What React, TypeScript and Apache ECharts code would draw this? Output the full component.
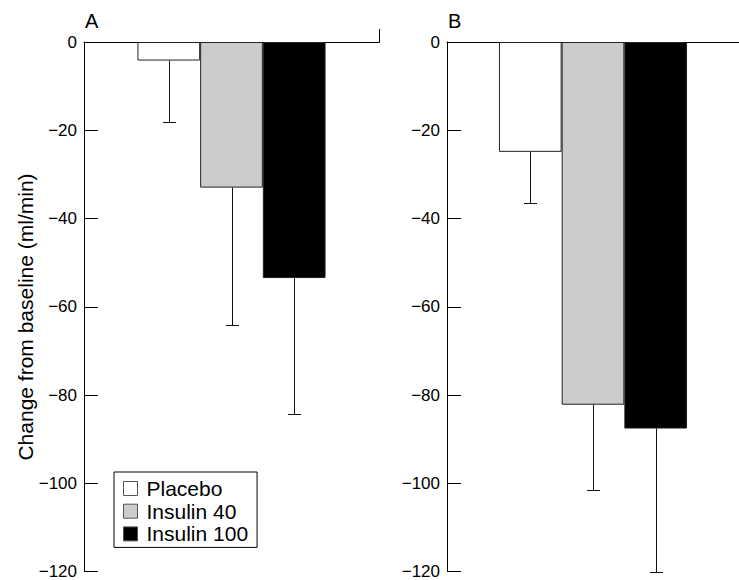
import React, { useEffect, useRef } from "react";
import * as echarts from "echarts";

const groups = ["Placebo", "Insulin 40", "Insulin 100"];
const colors = ["#ffffff", "#cccccc", "#000000"];
const meanA = [-4.2, -33.0, -53.5];
const sdA = [14.0, 31.1, 30.7];
const meanB = [-24.9, -82.2, -87.6];
const sdB = [11.5, 19.4, 32.4];
const yMin = -120;
const yMax = 0;
const yStep = 20;
const panelLabels = ["A", "B"];
const yTitle = "Change from baseline (ml/min)";

const FONT = '"Liberation Sans", Arial, Helvetica, sans-serif';
const BAR_W = 62.7;
const CAP = 13;

const grids = [
  { left: 84, top: 42, width: 295, height: 531 },
  { left: 447, top: 42, width: 296, height: 531 },
];

export default function App() {
  const ref = useRef<HTMLDivElement>(null);
  useEffect(() => {
    document.body.style.margin = "0";
    const chart = echarts.init(ref.current!, null, { renderer: "svg" });
    const panels = [
      { mean: meanA, sd: sdA },
      { mean: meanB, sd: sdB },
    ];
    const series: any[] = [];
    panels.forEach((p, gi) => {
      groups.forEach((g, i) => {
        series.push({
          type: "bar",
          name: g,
          xAxisIndex: gi,
          yAxisIndex: gi,
          data: [p.mean[i]],
          barWidth: BAR_W,
          barGap: "0%",
          itemStyle: { color: colors[i], borderColor: "#222", borderWidth: 1 },
          z: 2,
        });
      });
      series.push({
        type: "custom",
        xAxisIndex: gi,
        yAxisIndex: gi,
        z: 3,
        silent: true,
        encode: { x: 0, y: 1 },
        data: groups.map((_, i) => [0, p.mean[i], p.mean[i] - p.sd[i], i]),
        renderItem: (params: any, api: any) => {
          const idx = api.value(3);
          const top = api.coord([0, api.value(1)]);
          const bot = api.coord([0, api.value(2)]);
          const x = Math.round(top[0] + (idx - 1) * BAR_W) + 0.5;
          const y1 = top[1];
          const y2 = Math.round(bot[1]) + 0.5;
          const st = { stroke: "#111", lineWidth: 1 };
          return {
            type: "group",
            children: [
              { type: "line", shape: { x1: x, y1, x2: x, y2 }, style: st },
              { type: "line", shape: { x1: x - CAP / 2, y1: y2, x2: x + CAP / 2, y2 }, style: st },
            ],
          };
        },
      });
    });

    const option: any = {
      animation: false,
      backgroundColor: "#fff",
      grid: grids,
      xAxis: grids.map((_, gi) => ({
        type: "category",
        gridIndex: gi,
        position: "top",
        data: [""],
        axisLine: { lineStyle: { color: "#000", width: 1 } },
        axisTick: { show: false },
        axisLabel: { show: false },
        splitLine: { show: false },
      })),
      yAxis: grids.map((_, gi) => ({
        type: "value",
        gridIndex: gi,
        min: yMin,
        max: yMax,
        interval: yStep,
        axisLine: { show: true, lineStyle: { color: "#000", width: 1 } },
        axisTick: { show: true, inside: true, length: 14, lineStyle: { color: "#000" } },
        axisLabel: {
          margin: 7,
          fontSize: 17,
          color: "#000",
          fontFamily: FONT,
          formatter: (v: number) => String(v).replace("-", "\u2212"),
        },
        splitLine: { show: false },
      })),
      legend: {
        data: groups,
        orient: "vertical",
        left: 114,
        top: 472,
        icon: "rect",
        itemWidth: 14,
        itemHeight: 14,
        itemGap: 1.7,
        padding: [6, 9, 3, 9],
        borderColor: "#000",
        borderWidth: 1,
        selectedMode: false,
        itemStyle: { borderColor: "#555", borderWidth: 1 },
        textStyle: {
          fontSize: 21,
          lineHeight: 20,
          color: "#000",
          fontFamily: FONT,
          padding: [0, 0, 0, 4],
        },
      },
      graphic: [
        ...panelLabels.map((t, gi) => ({
          type: "text",
          left: grids[gi].left + 1,
          top: 11,
          style: { text: t, fontSize: 20, fill: "#000", fontFamily: FONT },
        })),
        {
          type: "text",
          x: 25,
          y: 317,
          rotation: Math.PI / 2,
          style: {
            text: yTitle,
            fontSize: 21,
            fill: "#000",
            fontFamily: FONT,
            align: "center",
            verticalAlign: "middle",
          },
        },
        {
          type: "line",
          shape: {
            x1: grids[0].left + grids[0].width + 0.5,
            y1: 29,
            x2: grids[0].left + grids[0].width + 0.5,
            y2: grids[0].top + 0.5,
          },
          style: { stroke: "#000", lineWidth: 1 },
        },
      ],
      series,
    };
    chart.setOption(option);
    return () => chart.dispose();
  }, []);
  return <div ref={ref} style={{ width: 739, height: 580 }} />;
}
